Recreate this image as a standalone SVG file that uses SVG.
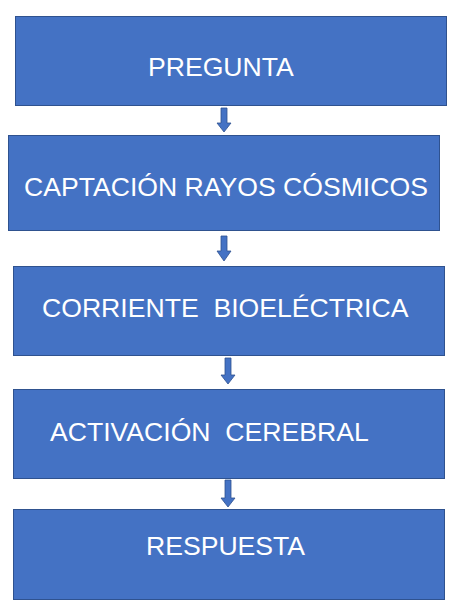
<svg xmlns="http://www.w3.org/2000/svg" width="460" height="616" viewBox="0 0 460 616">
<style>
.box{fill:#4472C4;stroke:#2F528F;stroke-width:1}
.lbl{font-family:"Liberation Sans",Arial,sans-serif;font-size:26.6px;fill:#FFFFFF;white-space:pre}
.arr{fill:#4472C4;stroke:#2F528F;stroke-width:0.8}
</style>
<rect width="460" height="616" fill="#FFFFFF"/>
<g id="n1"><rect class="box" x="15.5" y="16.5" width="431" height="89"/><text class="lbl" x="148" y="76">PREGUNTA</text></g>
<g id="n2"><rect class="box" x="8.5" y="135.5" width="431" height="95"/><text class="lbl" x="24" y="196">CAPTACIÓN RAYOS CÓSMICOS</text></g>
<g id="n3"><rect class="box" x="13.5" y="266.5" width="431" height="89"/><text class="lbl" x="42" y="317" xml:space="preserve">CORRIENTE  BIOELÉCTRICA</text></g>
<g id="n4"><rect class="box" x="13.5" y="389.5" width="431" height="89"/><text class="lbl" x="50" y="441" xml:space="preserve">ACTIVACIÓN  CEREBRAL</text></g>
<g id="n5"><rect class="box" x="13.5" y="509.5" width="431" height="90"/><text class="lbl" x="146" y="555">RESPUESTA</text></g>
<g id="connectors">
<path class="arr" d="M221,108 H227 V123 H231 L224,132 L217,123 H221 Z"/>
<path class="arr" d="M221,236 H227 V251 H231 L224,261 L217,251 H221 Z"/>
<path class="arr" d="M225,358 H231 V375 H235 L228,384 L221,375 H225 Z"/>
<path class="arr" d="M225,480 H231 V498 H235 L228,507 L221,498 H225 Z"/>
</g>
</svg>
